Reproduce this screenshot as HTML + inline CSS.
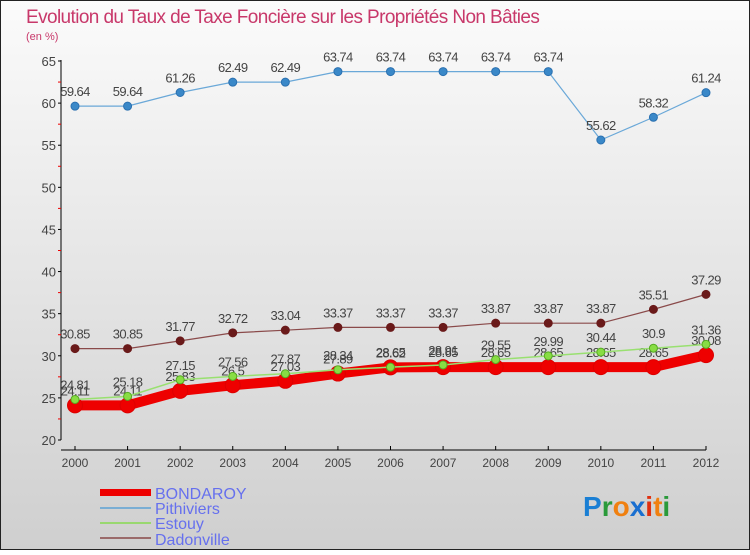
<!DOCTYPE html>
<html><head><meta charset="utf-8"><style>
body{margin:0;width:750px;height:550px;overflow:hidden;font-family:"Liberation Sans",sans-serif}
</style></head><body>
<svg id="c" width="750" height="550" xmlns="http://www.w3.org/2000/svg">
<defs><linearGradient id="bg" x1="0" y1="0" x2="0" y2="1"><stop offset="0" stop-color="#fbfbfb"/><stop offset="1" stop-color="#cfcfcf"/></linearGradient></defs>
<rect x="0.5" y="0.5" width="749" height="549" fill="url(#bg)" stroke="#222"/>
<text x="26" y="23" font-size="19" letter-spacing="-0.6" fill="#c8386a">Evolution du Taux de Taxe Foncière sur les Propriétés Non Bâties</text>
<text x="26" y="40" font-size="11" fill="#c8386a">(en %)</text>
<g id="axes"></g><g id="series"></g>
<g>
<rect x="100" y="489" width="51" height="7" fill="#e00"/>
<text x="155" y="499" font-size="16" fill="#6670ee">BONDAROY</text>
<line x1="100" y1="508" x2="151" y2="508" stroke="#7aaed4" stroke-width="2"/>
<text x="155" y="514" font-size="16" fill="#6670ee">Pithiviers</text>
<line x1="100" y1="523" x2="151" y2="523" stroke="#99d870" stroke-width="2"/>
<text x="155" y="529" font-size="16" fill="#6670ee">Estouy</text>
<line x1="100" y1="538" x2="151" y2="538" stroke="#9a6a6a" stroke-width="2"/>
<text x="155" y="545" font-size="16" fill="#6670ee">Dadonville</text>
</g>
<g font-size="28" font-weight="bold">
<text x="583" y="516"><tspan fill="#1a7fd4">P</tspan><tspan fill="#2a9a3a">r</tspan><tspan fill="#f08010">o</tspan><tspan fill="#1a6fd0">x</tspan><tspan fill="#e03010">i</tspan><tspan fill="#f08010">t</tspan><tspan fill="#2a9a3a">i</tspan></text>
</g>
</svg>
<script>
const years=[2000,2001,2002,2003,2004,2005,2006,2007,2008,2009,2010,2011,2012];
const bondaroy=[24.11,24.11,25.83,26.5,27.03,27.89,28.62,28.65,28.65,28.65,28.65,28.65,30.08];
const pithiviers=[59.64,59.64,61.26,62.49,62.49,63.74,63.74,63.74,63.74,63.74,55.62,58.32,61.24];
const estouy=[24.81,25.18,27.15,27.56,27.87,28.34,28.65,28.91,29.55,29.99,30.44,30.9,31.36];
const dadonville=[30.85,30.85,31.77,32.72,33.04,33.37,33.37,33.37,33.87,33.87,33.87,35.51,37.29];
const yTicks=[20,25,30,35,40,45,50,55,60,65];
const NS="http://www.w3.org/2000/svg";
function X(i){return 75+i*(706-75)/(years.length-1);}
function Y(v){return 440-(v-20)*(440-61)/45;}
function mk(t,a,p){const e=document.createElementNS(NS,t);for(const k in a)e.setAttribute(k,a[k]);p.appendChild(e);return e;}
const ax=document.getElementById('axes'),sg=document.getElementById('series');
const yl=mk('line',{x1:61,y1:60,x2:61,y2:440,stroke:'#000'},ax);


const xl=mk('line',{x1:61,y1:450,x2:706,y2:450,stroke:'#000'},ax);


yTicks.forEach((v,i)=>{
 mk('line',{x1:58,y1:Y(v),x2:61,y2:Y(v),stroke:'#000'},ax);
 if(i<yTicks.length-1)mk('line',{x1:58,y1:Y(v+2.5),x2:61,y2:Y(v+2.5),stroke:'#e00'},ax);
 const t=mk('text',{x:56,y:Y(v)+5,'font-size':13,fill:'#444','text-anchor':'end'},ax);t.textContent=v;
 
 
});
years.forEach((y,i)=>{
 mk('line',{x1:X(i),y1:446,x2:X(i),y2:450,stroke:'#000'},ax);
 const t=mk('text',{x:X(i),y:467,'font-size':12,fill:'#444','text-anchor':'middle'},ax);t.textContent=y;
 
 
});
function series(name,vals,color,w,r,mcol,mstroke){
 const g=mk('g',{},sg);
 
 
 mk('polyline',{points:vals.map((v,i)=>X(i)+','+Y(v)).join(' '),fill:'none',stroke:color,'stroke-width':w,'stroke-linejoin':'round'},g);
 vals.forEach((v,i)=>{
  const c=mk('circle',{cx:X(i),cy:Y(v),r:r,fill:mcol,stroke:mstroke,'stroke-width':1},g);
  
  
  const t=mk('text',{x:X(i),y:Y(v)-10,'font-size':13,fill:'#444','text-anchor':'middle','letter-spacing':'-0.6'},g);t.textContent=v;
  
  
 });
}
series('dadonville',dadonville,'#8a4a4a',1.2,4,'#6a1a1a','#6a1a1a');
series('pithiviers',pithiviers,'#6aa8d8',1.2,4,'#3a88c8','#2a70b0');
series('bondaroy',bondaroy,'#ee0000',10,7.5,'#ee0000','#d00');
series('estouy',estouy,'#99e070',1.5,4,'#88dd44','#55aa22');
</script>
</body></html>
